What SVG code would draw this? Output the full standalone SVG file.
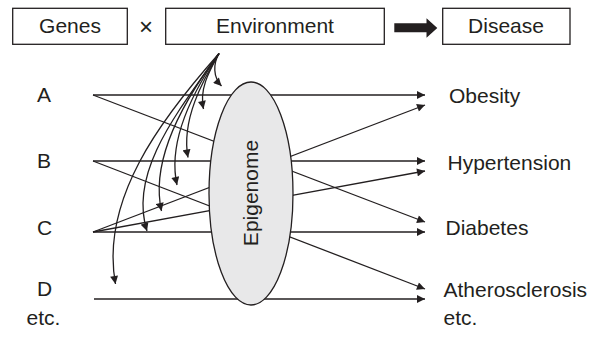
<svg xmlns="http://www.w3.org/2000/svg" width="599" height="337" viewBox="0 0 599 337">
<style>
text{font-family:"Liberation Sans",Arial,Helvetica,sans-serif;font-size:21px;fill:#231f20}
.box{fill:#fff;stroke:#231f20;stroke-width:1.3}
.ln{fill:none;stroke:#231f20;stroke-width:1.3}
.ar{marker-end:url(#ah)}
.c{text-anchor:middle}
</style>
<defs>
<marker id="ah" viewBox="0 0 10 10" refX="10" refY="5" markerWidth="9" markerHeight="8" markerUnits="userSpaceOnUse" orient="auto">
<path d="M0,0 L10,5 L0,10 z" fill="#231f20"/>
</marker>
</defs>
<rect width="599" height="337" fill="#fff"/>
<g id="genes"><rect class="box" x="12.7" y="8.3" width="114.6" height="36"/><text class="c" x="70" y="33">Genes</text></g>
<g id="times"><text class="c" x="146" y="35" style="font-size:24px">×</text></g>
<g id="environment"><rect class="box" x="165.7" y="8.3" width="218.6" height="36"/><text class="c" x="275" y="33">Environment</text></g>
<g id="bigarrow"><path d="M394.3,23.3 H426.5 V18.3 L437.3,28 L426.5,37.7 V32.3 H394.3 z" fill="#231f20"/></g>
<g id="disease"><rect class="box" x="442.7" y="8.3" width="127.3" height="36"/><text class="c" x="506" y="33">Disease</text></g>
<g id="connectors">
<line class="ln ar" x1="93" y1="95" x2="425" y2="95"/>
<line class="ln ar" x1="93" y1="95" x2="425" y2="222"/>
<line class="ln ar" x1="93" y1="161" x2="425" y2="161"/>
<line class="ln ar" x1="93" y1="161" x2="425" y2="289"/>
<line class="ln ar" x1="93" y1="232" x2="425" y2="232"/>
<line class="ln ar" x1="93" y1="232" x2="425" y2="105"/>
<line class="ln ar" x1="93" y1="232" x2="425" y2="171"/>
<line class="ln ar" x1="94" y1="299" x2="425" y2="299"/>
<path class="ln ar" d="M219,53.5 C213,64 213,77 221.5,86"/>
<path class="ln ar" d="M219,53.5 C210,70 199,88 203.5,109"/>
<path class="ln ar" d="M219,53.5 C203,80 181,120 188,157.5"/>
<path class="ln ar" d="M219,53.5 C194,90 167,140 177,185"/>
<path class="ln ar" d="M219,53.5 C184,100 150,160 161.5,211"/>
<path class="ln ar" d="M219,53.5 C179,110 128,172 147,231"/>
<path class="ln ar" d="M219,53.5 C160,120 100,200 115.5,284"/>
</g>
<g id="epigenome"><ellipse cx="251" cy="193.5" rx="42" ry="111.5" fill="#e8e8e9" stroke="#231f20" stroke-width="1.3"/><text class="c" transform="translate(257.5,193) rotate(-90)">Epigenome</text></g>
<g id="labels-left">
<text class="c" x="44" y="102">A</text>
<text class="c" x="44" y="168">B</text>
<text class="c" x="44.5" y="235">C</text>
<text class="c" x="44.5" y="296">D</text>
<text class="c" x="43.5" y="325">etc.</text>
</g>
<g id="labels-right">
<text x="449" y="103">Obesity</text>
<text x="447.5" y="170">Hypertension</text>
<text x="445.5" y="235">Diabetes</text>
<text x="443.5" y="297">Atherosclerosis</text>
<text x="443.5" y="325">etc.</text>
</g>
</svg>
